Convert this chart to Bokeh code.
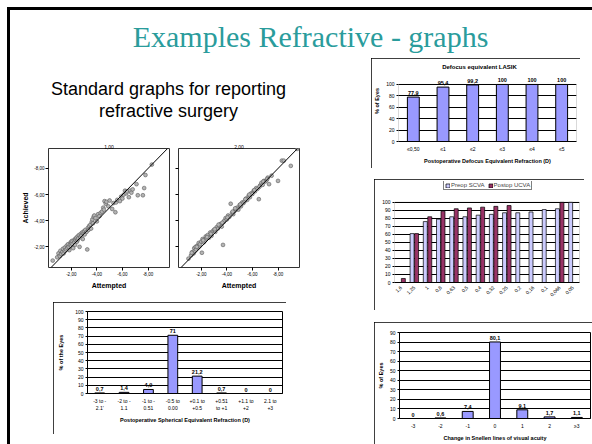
import math
from bokeh.plotting import figure
from bokeh.layouts import column, row
from bokeh.core.properties import value
from bokeh.models import (Spacer, Label, LabelSet, ColumnDataSource, Range1d,
                          FactorRange, FixedTicker, Legend, LegendItem, Slope,
                          BoxAnnotation)
from bokeh.transform import dodge
from bokeh.embed import file_html
from bokeh.resources import INLINE

# ---------------- data ----------------
slide_title = "Examples Refractive - graphs"
subtitle_lines = ["Standard graphs for reporting", "refractive surgery"]

defocus_title = "Defocus equivalent LASIK"
defocus_cats = ["≤0,50", "≤1", "≤2", "≤3", "≤4", "≤5"]
defocus_vals = [77.9, 95.4, 99.2, 100, 100, 100]
defocus_text = ["77,9", "95,4", "99,2", "100", "100", "100"]
defocus_ticks = [0, 20, 40, 60, 80, 100]

va_cats = ["1,6", "1,25", "1", "0,8", "0,63", "0,5", "0,4", "0,32", "0,25",
           "0,2", "0,16", "0,1", "0,066", "0,05"]
va_preop = [None, 61, 76, 79, 82, 82, 84, 85, 87, 87, 88, 91, 92, 100]
va_postop = [5, 61, 82, 89, 92, 93, 94, 95, 96, None, None, None, 100, None]
va_series = ["Preop SCVA", "Postop UCVA"]
va_ticks = [0, 10, 20, 30, 40, 50, 60, 70, 80, 90, 100]

snellen_cats = ["-3", "-2", "-1", "0", "1", "2", "≥3"]
snellen_vals = [0, 0.6, 7.4, 80.1, 9.1, 1.7, 1.1]
snellen_text = ["0", "0,6", "7,4", "80,1", "9,1", "1,7", "1,1"]
snellen_ticks = [0, 10, 20, 30, 40, 50, 60, 70, 80, 90]

se_cats = ["-3 to -\n2.1'", "-2 to -\n1.1", "-1 to -\n0.51", "-0.5 to\n0.00",
           "+0.1 to\n+0.5", "+0.51\nto +1", "+1.1 to\n+2", "2.1 to\n+3"]
se_vals = [0.7, 1.4, 4.9, 71, 21.2, 0.7, 0, 0]
se_text = ["0,7", "1,4", "4,9", "71", "21,2", "0,7", "0", "0"]
se_ticks = [0, 10, 20, 30, 40, 50, 60, 70, 80, 90, 100]

scatter_titles = ["1,00", "2,00"]
scatter_ticks = [-2, -4, -6, -8]
scatter_tick_text = ["-2,00", "-4,00", "-6,00", "-8,00"]

att1 = [-0.55, -0.9, -1.0, -1.1, -1.15, -1.2, -1.3, -1.35, -1.4, -1.5, -1.5, -1.6,
        -1.65, -1.7, -1.75, -1.8, -1.85, -1.9, -1.95, -2.0, -2.0, -2.05, -2.1, -2.15,
        -2.2, -2.25, -2.3, -2.3, -2.35, -2.4, -2.45, -2.5, -2.5, -2.55, -2.6, -2.65,
        -2.7, -2.75, -2.8, -2.85, -2.9, -2.95, -3.0, -3.05, -3.1, -3.2, -3.25, -3.3,
        -3.35, -3.4, -3.5, -3.55, -3.6, -3.65, -3.7, -3.75, -3.8, -3.9, -4.0, -4.1,
        -4.2, -4.3, -4.4, -4.5, -4.55, -4.6, -4.7, -4.75, -4.9, -5.0, -5.2, -5.3,
        -5.45, -5.5, -5.6, -5.8, -5.9, -6.0, -6.1, -6.2, -6.3, -6.35, -6.5, -6.6,
        -6.7, -6.8, -7.1, -7.2, -7.6, -7.7, -7.8, -8.3]
ach1 = [-0.95, -1.2, -1.5, -1.3, -1.7, -1.45, -1.6, -1.85, -1.5, -1.7, -1.95, -1.8,
        -2.1, -1.9, -2.2, -2.0, -1.75, -2.15, -2.35, -2.05, -2.3, -2.45, -2.2, -1.9,
        -2.5, -2.35, -2.6, -2.15, -2.5, -2.7, -2.4, -2.55, -2.8, -2.65, -2.9, -2.0,
        -2.75, -3.0, -2.85, -3.1, -2.6, -3.05, -3.2, -2.95, -3.3, -3.15, -1.8, -3.45,
        -3.3, -3.6, -3.7, -3.4, -3.9, -4.1, -3.8, -4.3, -4.4, -4.2, -3.95, -4.5,
        -4.35, -4.6, -4.7, -5.0, -4.85, -5.5, -5.3, -5.45, -5.1, -5.55, -4.9, -5.35,
        -4.65, -5.4, -5.6, -5.5, -5.85, -5.7, -6.0, -6.3, -6.1, -6.25, -5.8, -6.3,
        -6.15, -6.4, -6.8, -5.95, -5.95, -6.5, -7.5, -8.3]

att2 = [-1.0, -1.2, -1.3, -1.4, -1.45, -1.5, -1.55, -1.6, -1.7, -1.75, -1.8, -1.85,
        -1.9, -2.0, -2.05, -2.1, -2.2, -2.3, -2.35, -2.4, -2.5, -2.6, -2.7, -2.8,
        -2.9, -3.0, -3.1, -3.2, -3.3, -3.4, -3.5, -3.6, -3.7, -3.75, -3.8, -3.9,
        -4.0, -4.1, -4.2, -4.3, -4.4, -4.5, -4.6, -4.7, -4.8, -4.9, -5.0, -5.1,
        -5.2, -5.3, -5.4, -5.5, -5.6, -5.7, -5.8, -5.9, -6.0, -6.1, -6.2, -6.3,
        -6.4, -6.5, -6.6, -6.7, -6.8, -6.9, -7.0, -7.1, -7.2, -7.3, -7.5, -8.0,
        -8.3, -8.45, -9.0, -9.5,
        -1.25, -1.65, -2.15, -2.45, -2.75, -3.05, -3.35, -3.65, -4.05, -4.45,
        -4.65, -5.05, -5.45, -5.75, -6.15, -6.55, -6.85, -7.15]
ach2 = [-1.1, -1.35, -1.6, -1.5, -1.9, -1.7, -2.0, -1.8, -2.1, -1.95, -2.3, -2.05,
        -2.2, -2.4, -1.55, -2.6, -2.35, -2.5, -2.8, -2.65, -2.9, -2.7, -3.1, -2.85,
        -3.2, -3.3, -3.15, -3.5, -3.4, -3.6, -3.75, -3.55, -2.15, -3.9, -4.0, -4.2,
        -4.1, -4.4, -4.3, -5.3, -4.6, -4.5, -4.75, -4.9, -5.0, -4.85, -5.2, -5.1,
        -5.4, -5.35, -5.5, -5.7, -5.6, -5.9, -5.8, -6.1, -6.05, -6.3, -6.25, -6.5,
        -6.45, -5.65, -6.7, -6.9, -6.75, -7.05, -7.0, -7.1, -7.3, -6.8, -7.45, -7.05,
        -8.6, -8.6, -8.2, -9.5,
        -1.55, -2.0, -2.5, -2.75, -3.0, -3.35, -3.7, -3.85, -4.25, -4.7,
        -4.95, -5.25, -5.65, -6.0, -6.35, -6.6, -7.0, -7.2]

# ---------------- style ----------------
SANS = "Liberation Sans"
SERIF = "Liberation Serif"
TEAL = "#2a9c9c"
BAR = "#9999ff"
PRE = "#ccccff"
POST = "#993366"


def box_style(width):
    return {"outline": f"{width}px solid black", "outline-offset": f"-{width}px"}


def new_fig(w, h, **kw):
    kw.setdefault("title", None)
    p = figure(width=w, height=h, output_backend="svg", toolbar_location=None, **kw)
    p.background_fill_color = "white"
    p.border_fill_color = "white"
    return p


def style_axis(ax, size="5px", title_size="5.5px"):
    ax.major_label_text_font = SANS
    ax.major_label_text_font_size = size
    ax.major_label_text_color = "black"
    ax.axis_label_text_font = SANS
    ax.axis_label_text_font_style = "bold"
    ax.axis_label_text_font_size = title_size
    ax.axis_label_text_color = "black"
    ax.major_tick_in = 0
    ax.major_tick_out = 2
    ax.minor_tick_in = 0
    ax.minor_tick_out = 0
    ax.axis_line_color = "black"
    ax.major_tick_line_color = "black"
    ax.major_label_standoff = 2
    ax.axis_label_standoff = 3


def bar_chart(cats, vals, texts, ticks, w, h, mb, ylabel, xlabel, bar_w,
              ytop=None, box_w=1):
    src = ColumnDataSource(dict(cat=cats, val=vals, txt=texts))
    top = ticks[-1] if ytop is None else ytop
    p = new_fig(w, h, x_range=FactorRange(*cats), y_range=Range1d(0, top),
                min_border_left=mb[0], min_border_right=mb[1],
                min_border_top=mb[2], min_border_bottom=mb[3],
                styles=box_style(box_w))
    p.vbar(x="cat", top="val", width=bar_w, source=src, fill_color=BAR,
           line_color="black", line_width=1)
    p.add_layout(LabelSet(x="cat", y="val", text="txt", source=src, y_offset=2,
                          text_align="center", text_baseline="bottom",
                          text_font=value(SANS), text_font_size=value("5.5px"),
                          text_font_style="bold", text_color="black"))
    p.xgrid.grid_line_color = None
    p.ygrid.grid_line_color = "black"
    p.ygrid.grid_line_width = 1
    p.yaxis.ticker = FixedTicker(ticks=ticks)
    for ax in (p.xaxis[0], p.yaxis[0]):
        style_axis(ax)
    p.xaxis.major_tick_line_color = None
    p.yaxis.axis_label = ylabel
    p.xaxis.axis_label = xlabel
    if ytop is None:
        p.outline_line_color = "black"
    else:
        # plot area ends at the last tick; space above holds value labels / title
        p.outline_line_color = None
        p.yaxis.axis_line_color = None
        p.add_layout(BoxAnnotation(bottom=0, top=ticks[-1], fill_color=None,
                                   line_color="black", line_width=1))
    return p


def text_fig(w, h):
    p = new_fig(w, h, x_range=Range1d(0, w), y_range=Range1d(0, h),
                x_axis_type=None, y_axis_type=None, min_border=0)
    p.border_fill_color = None
    p.background_fill_color = None
    p.outline_line_color = None
    p.grid.visible = False
    return p


# ---------------- header texts ----------------
head = text_fig(582, 48)
head.add_layout(Label(x=300, y=22, text=slide_title, text_align="center",
                      text_baseline="alphabetic", text_font=SERIF,
                      text_font_size="30px", text_color=TEAL))

sub = text_fig(361, 84)
for i, line in enumerate(subtitle_lines):
    sub.add_layout(Label(x=158, y=54 - 22 * i, text=line, text_align="center",
                         text_baseline="alphabetic", text_font=SANS,
                         text_font_size="18px", text_color="black"))


# ---------------- scatter panels ----------------
def scatter_panel(xs, ys, title, w, mbl, mbr, show_y):
    p = new_fig(w, 156, x_range=Range1d(-0.22, -9.68), y_range=Range1d(-0.42, -9.53),
                min_border_left=mbl, min_border_right=mbr,
                min_border_top=6, min_border_bottom=31, title=title)
    p.title.align = "center"
    p.title.text_font = SANS
    p.title.text_font_size = "5px"
    p.title.text_font_style = "normal"
    p.title.text_color = "black"
    p.title.standoff = 0
    p.grid.visible = False
    p.outline_line_color = "#333333"
    p.scatter(x=xs, y=ys, size=3.8, fill_color="#b4b4b4", line_color="#5a5a5a",
              line_width=0.6)
    p.add_layout(Slope(gradient=1, y_intercept=0, line_color="black", line_width=1))
    overrides = {t: s for t, s in zip(scatter_ticks, scatter_tick_text)}
    for ax in (p.xaxis[0], p.yaxis[0]):
        style_axis(ax, size="4.5px", title_size="7px")
        ax.ticker = FixedTicker(ticks=scatter_ticks)
        ax.major_label_overrides = overrides
        ax.axis_line_color = None
        ax.major_tick_out = 3
        ax.major_label_standoff = 1
    p.xaxis.axis_label = "Attempted"
    p.xaxis.axis_label_standoff = 3
    if show_y:
        p.yaxis.axis_label = "Achieved"
        p.yaxis.axis_label_standoff = 2
    else:
        p.yaxis.major_label_overrides = {t: "" for t in scatter_ticks}
        p.yaxis.major_label_standoff = 0
    return p


sp1 = scatter_panel(att1, ach1, scatter_titles[0], 160, 36, 3, True)
sp2 = scatter_panel(att2, ach2, scatter_titles[1], 128, 6, 1, False)

# ---------------- chart A: defocus ----------------
pA = bar_chart(defocus_cats, defocus_vals, defocus_text, defocus_ticks, 209, 110,
               (22, 4, 2, 27), "% of Eyes",
               "Postoperative Defocus Equivalent Refraction (D)", 0.4, ytop=142)
pA.add_layout(Label(x=3.0, y=130, x_offset=-8, text=defocus_title,
                    text_align="center", text_baseline="middle", text_font=SANS,
                    text_font_size="6px", text_font_style="bold", text_color="black"))

# ---------------- chart B: visual acuity ----------------
srcB = ColumnDataSource(dict(cat=va_cats, pre=va_preop, post=va_postop))
pB = new_fig(210, 131, x_range=FactorRange(*va_cats), y_range=Range1d(0, 126),
             min_border_left=20, min_border_right=5, min_border_top=2,
             min_border_bottom=28, styles=box_style(1.5))
rPre = pB.vbar(x=dodge("cat", -0.17, range=pB.x_range), top="pre", width=0.3,
               source=srcB, fill_color=PRE, line_color="black", line_width=0.7)
rPost = pB.vbar(x=dodge("cat", 0.17, range=pB.x_range), top="post", width=0.3,
                source=srcB, fill_color=POST, line_color="black", line_width=0.7)
pB.xgrid.grid_line_color = None
pB.ygrid.grid_line_color = "black"
pB.outline_line_color = None
pB.add_layout(BoxAnnotation(bottom=0, top=100, fill_color=None,
                            line_color="black", line_width=1))
pB.yaxis.ticker = FixedTicker(ticks=va_ticks)
for ax in (pB.xaxis[0], pB.yaxis[0]):
    style_axis(ax)
pB.yaxis.axis_line_color = None
pB.xaxis.major_tick_line_color = None
pB.xaxis.major_label_orientation = math.pi / 4
legB = Legend(items=[LegendItem(label=va_series[0], renderers=[rPre]),
                     LegendItem(label=va_series[1], renderers=[rPost])],
              orientation="horizontal", location=(49, 92),
              label_text_font=SANS, label_text_font_size="6px",
              glyph_width=5, glyph_height=5, label_height=5, label_standoff=1,
              padding=1, spacing=3, margin=0, border_line_color="black",
              border_line_width=1)
pB.add_layout(legB)

# ---------------- chart C: Snellen lines ----------------
pC = bar_chart(snellen_cats, snellen_vals, snellen_text, snellen_ticks, 218, 122,
               (25, 2, 10, 26), "% of Eyes",
               "Change in Snellen lines of visual acuity", 0.4)

# ---------------- chart D: spherical equivalent ----------------
pD = bar_chart(se_cats, se_vals, se_text, se_ticks, 233, 132,
               (34, 4, 9, 41), "% of the Eyes",
               "Postoperative Spherical Equivalent Refraction (D)", 0.4)
pD.yaxis.axis_label_standoff = 8

# ---------------- layout ----------------
left_col = column(
    sub,
    row(Spacer(width=2, height=156), sp1, sp2),
    Spacer(width=10, height=4),
    row(Spacer(width=43, height=132), pD),
    width=361,
)
right_col = column(
    pA,
    Spacer(width=10, height=11),
    row(Spacer(width=3, height=131), pB),
    Spacer(width=10, height=12),
    row(Spacer(width=3, height=122), pC),
    width=221,
)
inner = column(head, row(left_col, right_col), width=582, height=434)
slide = column(Spacer(width=585, height=3),
               row(Spacer(width=3, height=434), inner),
               width=585, height=437,
               styles={"box-shadow": "inset 3px 3px 0 0 black"})
root = column(Spacer(width=592, height=7),
              row(Spacer(width=7, height=437), slide),
              width=592, height=444)

open("out.html", "w").write(file_html(root, INLINE))
